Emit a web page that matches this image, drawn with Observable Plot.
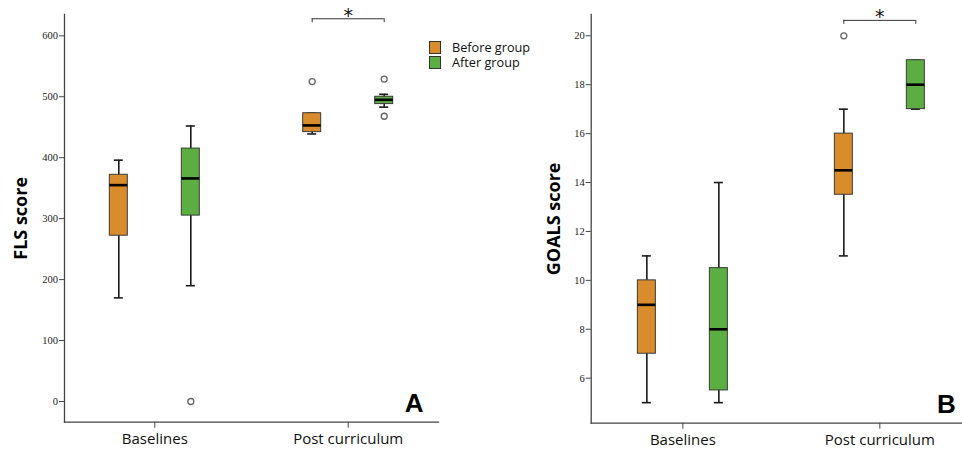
<!DOCTYPE html>
<html>
<head>
<meta charset="utf-8">
<script src="https://cdn.jsdelivr.net/npm/d3@7"></script>
<script src="https://cdn.jsdelivr.net/npm/@observablehq/plot@0.6"></script>
<style>
  html, body { margin: 0; padding: 0; background: #fff; }
  #wrap { position: relative; width: 962px; height: 449px; display: flex; overflow: hidden; }
  #legend { position: absolute; left: 429px; top: 40px; font-family: "Open Sans", sans-serif; font-size: 12.7px; line-height: 15px; color: #111; }
  .row { display: flex; align-items: center; height: 15px; line-height: 15px; }
  .sw { width: 10px; height: 10.5px; border: 1px solid #333; margin-right: 11px; flex: none; }
</style>
</head>
<body>
<div id="wrap">
  <div id="panelA"></div>
  <div id="panelB"></div>
  <div id="legend"></div>
</div>
<script>
// ---------- data ----------
const categories = ["Baselines", "Post curriculum"];
const groups = ["Before group", "After group"];
const groupColors = ["#D88C2C", "#5CAE43"];

// box order: Baselines-Before, Baselines-After, Post-Before, Post-After
const boxCategory = ["Baselines", "Baselines", "Post curriculum", "Post curriculum"];
const boxGroup = ["Before group", "After group", "Before group", "After group"];

// Panel A: FLS score
const flsMin = [170, 190, 439, 483];
const flsQ1 = [272, 305, 442, 488];
const flsMedian = [355, 366, 453, 495];
const flsQ3 = [372, 415, 473, 500];
const flsMax = [396, 452, 473, 504];
const flsOutlierCategory = ["Baselines", "Post curriculum", "Post curriculum", "Post curriculum"];
const flsOutlierGroup = ["After group", "Before group", "After group", "After group"];
const flsOutlierValue = [0, 525, 529, 468];
const flsTicks = [0, 100, 200, 300, 400, 500, 600];
// significance bracket: category, bracket level, level of the bracket's end ticks
const flsSignificance = ["Post curriculum", 628, 621.5];

// Panel B: GOALS score
const goalsMin = [5, 5, 11, 17];
const goalsQ1 = [7, 5.5, 13.5, 17];
const goalsMedian = [9, 8, 14.5, 18];
const goalsQ3 = [10, 10.5, 16, 19];
const goalsMax = [11, 14, 17, 19];
const goalsOutlierCategory = ["Post curriculum"];
const goalsOutlierGroup = ["Before group"];
const goalsOutlierValue = [20];
const goalsTicks = [6, 8, 10, 12, 14, 16, 18, 20];
const goalsSignificance = ["Post curriculum", 20.63, 20.47];

// ---------- drawing ----------
const GROUP_OFFSET = 36; // px from category centre to each box centre

function panel(cfg) {
  const boxes = boxCategory.map((c, i) => ({
    category: c, group: boxGroup[i],
    min: cfg.min[i], q1: cfg.q1[i], median: cfg.median[i], q3: cfg.q3[i], max: cfg.max[i]
  }));
  const outliers = cfg.outCat.map((c, i) => ({category: c, group: cfg.outGroup[i], value: cfg.outVal[i]}));
  const marks = [];
  groups.forEach((g, gi) => {
    const dx = (gi === 0 ? -1 : 1) * GROUP_OFFSET;
    const b = boxes.filter(d => d.group === g);
    const o = outliers.filter(d => d.group === g);
    marks.push(Plot.ruleX(b, {x: "category", y1: "min", y2: "max", dx, stroke: "#1a1a1a", strokeWidth: 1.6}));
    marks.push(Plot.tickY(b, {x: "category", y: "min", dx, insetLeft: 4.5, insetRight: 4.5, stroke: "#1a1a1a", strokeWidth: 1.6}));
    marks.push(Plot.tickY(b, {x: "category", y: "max", dx, insetLeft: 4.5, insetRight: 4.5, stroke: "#1a1a1a", strokeWidth: 1.6}));
    marks.push(Plot.barY(b, {x: "category", y1: "q1", y2: "q3", dx, fill: "group", stroke: "#3a3a3a", strokeWidth: 1}));
    marks.push(Plot.tickY(b, {x: "category", y: "median", dx, stroke: "#000", strokeWidth: 2.6}));
    marks.push(Plot.dot(o, {x: "category", y: "value", dx, r: 3, fill: "#fff", stroke: "#666", strokeWidth: 1.3}));
  });
  // significance bracket
  const sig = [{category: cfg.sig[0], level: cfg.sig[1], end: cfg.sig[2]}];
  const inset = -(GROUP_OFFSET - 9);
  marks.push(Plot.ruleY(sig, {x1: "category", x2: "category", y: "level", insetLeft: inset, insetRight: inset, stroke: "#333", strokeWidth: 1}));
  [-1, 1].forEach(s => marks.push(Plot.ruleX(sig, {x: "category", y1: "level", y2: "end", dx: s * GROUP_OFFSET, stroke: "#333", strokeWidth: 1})));
  marks.push(Plot.text(sig, {x: "category", y: "level", text: () => "*", dy: -3, fontSize: 19, fontFamily: "DejaVu Sans", fill: "#111"}));
  // axes
  marks.push(Plot.frame({anchor: "left", stroke: "#444", strokeWidth: 1.3}));
  marks.push(Plot.frame({anchor: "bottom", stroke: "#444", strokeWidth: 1.3}));
  marks.push(Plot.axisY({ticks: cfg.ticks, tickSize: 5, tickPadding: 1.5, fontSize: 10.5, fontFamily: "Liberation Serif", fill: "#222", stroke: "#444", label: null}));
  marks.push(Plot.axisX({tickSize: 6, tickPadding: 5, fontSize: 15, fontFamily: "Open Sans", fill: "#111", stroke: "#444", label: null}));
  marks.push(Plot.text([cfg.yLabel], {frameAnchor: "left", text: d => d, textAnchor: "middle", lineAnchor: "middle", rotate: -90, dx: -cfg.labelOffset, fontSize: 18, fontWeight: "bold", fontFamily: "Open Sans", fill: "#000"}));
  marks.push(Plot.text([cfg.letter], {frameAnchor: "bottom-right", text: d => d, textAnchor: "end", lineAnchor: "bottom", dx: cfg.letterDx, dy: -10, fontSize: 26, fontWeight: "bold", fontFamily: "Liberation Sans", fill: "#000"}));

  return Plot.plot({
    width: 481, height: 449,
    marginLeft: cfg.marginLeft, marginRight: cfg.marginRight, marginTop: 14, marginBottom: cfg.marginBottom,
    x: {domain: categories, range: cfg.xRange, paddingInner: cfg.pi, paddingOuter: cfg.po, round: false, axis: null},
    y: {domain: cfg.yDomain, axis: null},
    color: {domain: groups, range: groupColors},
    style: {background: "#fff", overflow: "visible"},
    marks
  });
}

document.getElementById("panelA").append(panel({
  min: flsMin, q1: flsQ1, median: flsMedian, q3: flsQ3, max: flsMax,
  outCat: flsOutlierCategory, outGroup: flsOutlierGroup, outVal: flsOutlierValue,
  ticks: flsTicks, sig: flsSignificance, yLabel: "FLS score", letter: "A",
  marginLeft: 64, marginRight: 43, marginBottom: 27.3, yDomain: [-34, 635],
  xRange: [64, 438], pi: 0.907, po: 0.4205, labelOffset: 43, letterDx: -15
}));
document.getElementById("panelB").append(panel({
  min: goalsMin, q1: goalsQ1, median: goalsMedian, q3: goalsQ3, max: goalsMax,
  outCat: goalsOutlierCategory, outGroup: goalsOutlierGroup, outVal: goalsOutlierValue,
  ticks: goalsTicks, sig: goalsSignificance, yLabel: "GOALS score", letter: "B",
  marginLeft: 109.7, marginRight: 0, marginBottom: 26.3, yDomain: [4.16, 20.87],
  xRange: [109.7, 490], pi: 0.9086, po: 0.4196, labelOffset: 37.4, letterDx: -6.6
}));

// legend
const legend = document.getElementById("legend");
groups.forEach((g, i) => {
  const row = document.createElement("div");
  row.className = "row";
  const sw = document.createElement("div");
  sw.className = "sw";
  sw.style.background = groupColors[i];
  const t = document.createElement("span");
  t.textContent = g;
  row.append(sw, t);
  legend.append(row);
});
</script>
</body>
</html>
